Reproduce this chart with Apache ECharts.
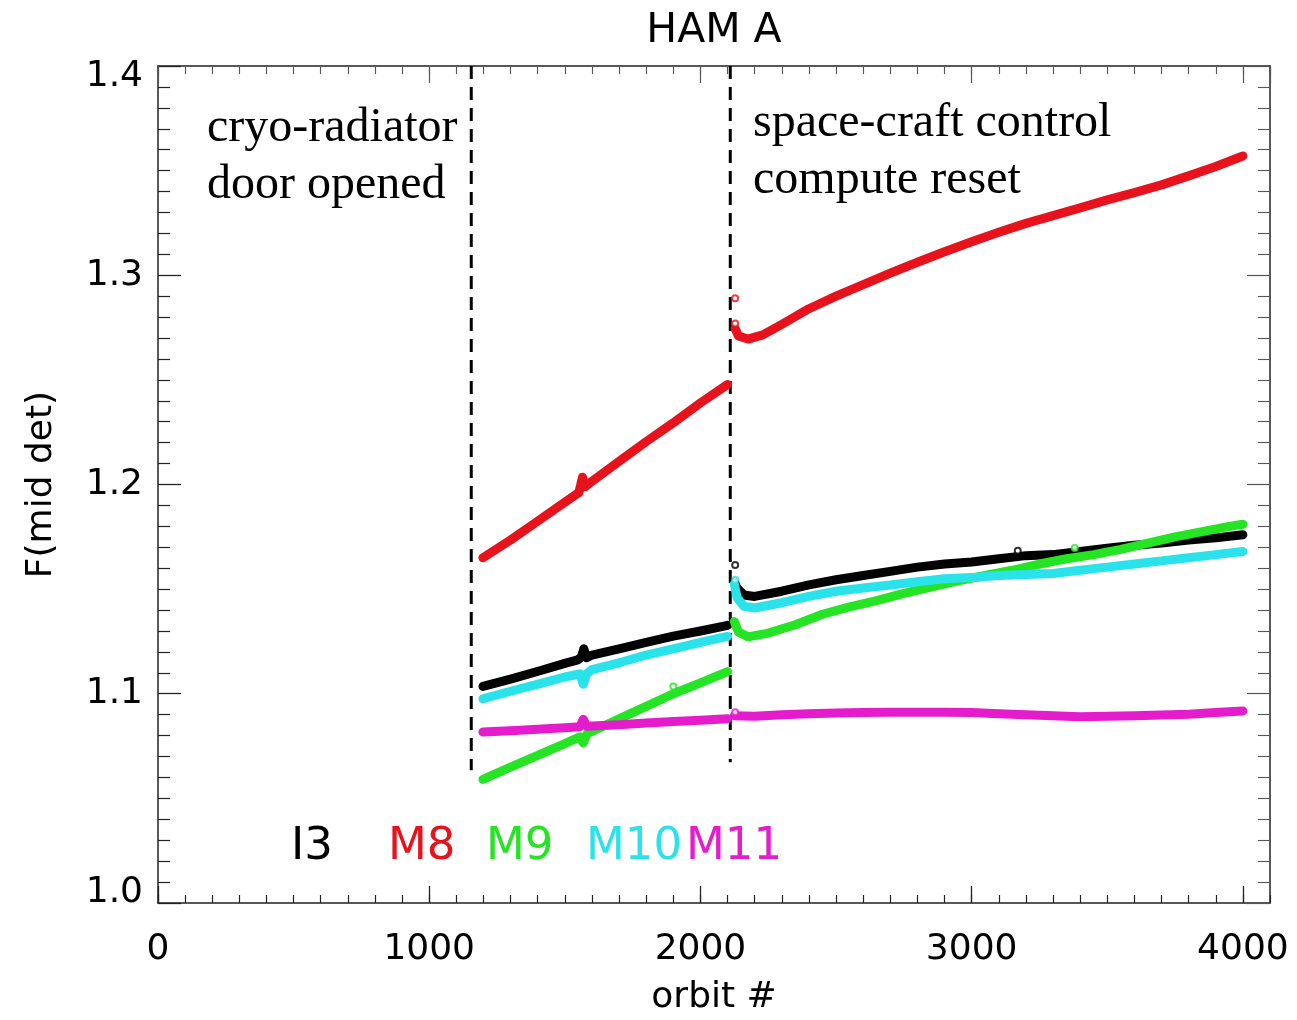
<!DOCTYPE html>
<html>
<head>
<meta charset="utf-8">
<script src="https://cdn.jsdelivr.net/npm/echarts@6/dist/echarts.min.js"></script>
<style>
  html, body { margin: 0; padding: 0; background: #ffffff; }
  #chart { width: 1297px; height: 1020px; }
</style>
</head>
<body>
<div id="chart"></div>
<script>
// ---- data: detector response F(mid det) per band vs orbit number ----
const bandNames = ['I3', 'M8', 'M9', 'M10', 'M11'];

// before the space-craft control computer reset
const i3Before  = [[1198,1.1035],[1300,1.107],[1408,1.111],[1500,1.1145],[1548,1.1162],[1562,1.1178],[1570,1.1215],[1580,1.1172],[1600,1.1185],[1700,1.1215],[1800,1.1245],[1900,1.1275],[2000,1.1300],[2100,1.1327]];
const m8Before  = [[1198,1.165],[1300,1.1735],[1400,1.1825],[1500,1.1915],[1552,1.1962],[1565,1.2035],[1576,1.1990],[1600,1.2015],[1700,1.211],[1800,1.2205],[1900,1.2295],[2000,1.239],[2100,1.2478]];
const m9Before  = [[1198,1.0591],[1300,1.0649],[1400,1.0706],[1500,1.0762],[1555,1.0794],[1568,1.0765],[1582,1.0809],[1700,1.0880],[1800,1.0940],[1900,1.1000],[2000,1.1052],[2100,1.1106]];
const m10Before = [[1198,1.0976],[1300,1.1012],[1408,1.1048],[1500,1.108],[1555,1.1095],[1568,1.1045],[1580,1.1095],[1600,1.1115],[1700,1.1148],[1800,1.1185],[1900,1.1215],[2000,1.1245],[2100,1.1274]];
const m11Before = [[1198,1.0817],[1300,1.0823],[1400,1.083],[1500,1.0837],[1555,1.0842],[1568,1.0878],[1580,1.0845],[1700,1.0852],[1800,1.086],[1900,1.0867],[2000,1.0873],[2100,1.088]];

// after the reset
const i3After  = [[2125,1.1535],[2135,1.1505],[2160,1.1472],[2200,1.1465],[2300,1.149],[2400,1.152],[2500,1.1545],[2600,1.1565],[2700,1.1585],[2800,1.1605],[2900,1.162],[3000,1.163],[3100,1.1645],[3200,1.166],[3300,1.1665],[3400,1.168],[3500,1.1695],[3600,1.171],[3700,1.172],[3800,1.1735],[3900,1.1745],[4000,1.176]];
const m8After  = [[2128,1.2745],[2140,1.271],[2175,1.2695],[2230,1.2715],[2300,1.2765],[2400,1.2840],[2500,1.2900],[2600,1.2955],[2700,1.3010],[2800,1.3062],[2900,1.3112],[3000,1.3160],[3100,1.3205],[3200,1.3248],[3300,1.3285],[3400,1.3322],[3500,1.3360],[3600,1.3395],[3700,1.3432],[3800,1.3475],[3900,1.3520],[4000,1.357]];
const m9After  = [[2125,1.1345],[2140,1.1295],[2175,1.1272],[2250,1.129],[2350,1.133],[2450,1.138],[2550,1.1415],[2650,1.1445],[2750,1.148],[2850,1.151],[2950,1.154],[3050,1.1565],[3150,1.159],[3250,1.162],[3350,1.1645],[3450,1.1665],[3550,1.169],[3650,1.172],[3750,1.175],[3850,1.1775],[3950,1.18],[4000,1.181]];
const m10After = [[2125,1.1525],[2135,1.146],[2160,1.1418],[2200,1.141],[2300,1.1435],[2400,1.1465],[2500,1.149],[2600,1.1505],[2700,1.152],[2800,1.1535],[2900,1.155],[3000,1.1555],[3100,1.1565],[3200,1.157],[3300,1.1575],[3400,1.159],[3500,1.1605],[3600,1.162],[3700,1.1635],[3800,1.165],[3900,1.1665],[4000,1.168]];
const m11After = [[2125,1.0895],[2200,1.0892],[2300,1.09],[2400,1.0905],[2500,1.0908],[2600,1.091],[2700,1.0912],[2800,1.0912],[2900,1.0911],[3000,1.091],[3100,1.0905],[3200,1.09],[3300,1.0895],[3400,1.089],[3500,1.0892],[3600,1.0895],[3700,1.0898],[3800,1.0902],[3900,1.091],[4000,1.0918]];

// isolated samples drawn as open circles
const i3Outliers  = [[2128,1.1615],[3170,1.1683]];
const m8Outliers  = [[2128,1.289],[2128,1.277]];
const m9Outliers  = [[1900,1.1035],[3380,1.1697]];
const m10Outliers = [[2128,1.1545]];
const m11Outliers = [[2128,1.0912]];

// events: cryo-radiator door opened, space-craft control computer reset
const eventOrbits  = [1155, 2110];
const eventLows    = [1.0635, 1.0673];
const eventHigh    = 1.4;
const eventNotes   = [['cryo-radiator', 'door opened'], ['space-craft control', 'compute reset']];

// ---- styling ----
const colors = { I3: '#000000', M8: '#e8121c', M9: '#24e424', M10: '#2ae2ea', M11: '#e41ccc' };
const before = { I3: i3Before, M8: m8Before, M9: m9Before, M10: m10Before, M11: m11Before };
const after  = { I3: i3After,  M8: m8After,  M9: m9After,  M10: m10After,  M11: m11After };
const outliers = { I3: i3Outliers, M8: m8Outliers, M9: m9Outliers, M10: m10Outliers, M11: m11Outliers };

const sans = 'DejaVu Sans';
const serif = 'Liberation Serif';
const frame = '#222222';

const grid = { left: 158, right: 27, top: 66, bottom: 117, containLabel: false, outerBoundsMode: 'none' };

function frameAxis(extra) {
  return Object.assign({
    type: 'value',
    axisLine: { show: true, onZero: false, lineStyle: { color: frame, width: 1.5 } },
    axisTick: { show: true, inside: true, lineStyle: { color: frame, width: 1.3 } },
    axisLabel: { show: false },
    splitLine: { show: false }
  }, extra);
}

const xAxes = [
  frameAxis({
    min: 0, max: 4100, interval: 1000, position: 'bottom',
    axisTick: { show: true, inside: true, length: 17, lineStyle: { color: frame, width: 1.3 } },
    axisLabel: { show: true, showMaxLabel: false, color: '#000', fontFamily: sans, fontSize: 36, margin: 29,
      formatter: v => String(Math.round(v)) },
    name: 'orbit #', nameLocation: 'middle', nameGap: 77,
    nameTextStyle: { color: '#000', fontFamily: sans, fontSize: 36 }
  }),
  frameAxis({ min: 0, max: 4100, interval: 100, position: 'bottom', axisLine: { show: false },
    axisTick: { show: true, inside: true, length: 8, lineStyle: { color: frame, width: 1.2 } } }),
  frameAxis({ min: 0, max: 4100, interval: 1000, position: 'top',
    axisTick: { show: true, inside: true, length: 17, lineStyle: { color: '#555', width: 1.2 } } }),
  frameAxis({ min: 0, max: 4100, interval: 100, position: 'top', axisLine: { show: false },
    axisTick: { show: true, inside: true, length: 8, lineStyle: { color: '#555', width: 1.1 } } })
];

// end labels of the value axis sit inside the frame
function yLabel(v) {
  const s = v.toFixed(1);
  if (Math.abs(v - 1.0) < 1e-6) return '{lo|' + s + '}';
  if (Math.abs(v - 1.4) < 1e-6) return '{hi|' + s + '}';
  return s;
}

const yAxes = [
  frameAxis({
    min: 1.0, max: 1.4, interval: 0.1, position: 'left',
    axisTick: { show: true, inside: true, length: 23, lineStyle: { color: frame, width: 1.3 } },
    minorTick: { show: true, splitNumber: 10, length: 12, lineStyle: { color: frame, width: 1.2 } },
    axisLabel: { show: true, color: '#000', fontFamily: sans, fontSize: 36, margin: 15,
      formatter: yLabel,
      rich: {
        lo: { color: '#000', fontFamily: sans, fontSize: 36, padding: [0, 0, 20, 0] },
        hi: { color: '#000', fontFamily: sans, fontSize: 36, padding: [22, 0, 0, 0] }
      } },
    name: 'F(mid det)', nameLocation: 'middle', nameGap: 98, nameRotate: 90,
    nameTextStyle: { color: '#000', fontFamily: sans, fontSize: 36 }
  }),
  frameAxis({
    min: 1.0, max: 1.4, interval: 0.1, position: 'right',
    axisTick: { show: true, inside: true, length: 23, lineStyle: { color: '#555', width: 1.2 } },
    minorTick: { show: true, splitNumber: 10, length: 12, lineStyle: { color: '#555', width: 1.1 } }
  })
];

const series = [];

// event markers: vertical dashed lines
eventOrbits.forEach((orbit, k) => {
  series.push({
    type: 'line', silent: true, symbol: 'none', z: 1,
    data: [[orbit, eventHigh], [orbit, eventLows[k]]],
    lineStyle: { color: '#000', width: 3, type: [13, 8] }
  });
});

// band curves, one segment on either side of the reset
bandNames.forEach((name, k) => {
  [before[name], after[name]].forEach(seg => {
    series.push({
      name: name, type: 'line', symbol: 'none', z: 3 + k,
      data: seg,
      lineStyle: { color: colors[name], width: 9, cap: 'round', join: 'round' }
    });
  });
  series.push({
    name: name, type: 'scatter', symbol: 'emptyCircle', symbolSize: 6, z: 3 + k,
    data: outliers[name],
    itemStyle: { color: colors[name], borderColor: colors[name], borderWidth: 1 }
  });
});

// band names written in their colours
const labelX = [291, 388, 486, 586, 686];
const graphics = bandNames.map((name, k) => ({
  type: 'text', x: labelX[k], y: 847, silent: true,
  style: { text: name, fill: colors[name], font: '45px "' + sans + '"', align: 'left', verticalAlign: 'middle' }
}));

// title
graphics.push({
  type: 'text', x: 714, y: 31, silent: true,
  style: { text: 'HAM A', fill: '#000', font: '41px "' + sans + '"', align: 'center', verticalAlign: 'middle' }
});

// event notes
const noteAnchors = [[207, 128], [753, 123]];
eventNotes.forEach((lines, k) => {
  lines.forEach((line, j) => {
    graphics.push({
      type: 'text', x: noteAnchors[k][0], y: noteAnchors[k][1] + j * 57, silent: true,
      style: { text: line, fill: '#000', font: '48px "' + serif + '"', align: 'left', verticalAlign: 'middle' }
    });
  });
});

const chart = echarts.init(document.getElementById('chart'), null, { renderer: 'canvas' });
chart.setOption({
  animation: false,
  backgroundColor: '#ffffff',
  grid: grid,
  xAxis: xAxes,
  yAxis: yAxes,
  series: series,
  graphic: graphics
});
</script>
</body>
</html>
